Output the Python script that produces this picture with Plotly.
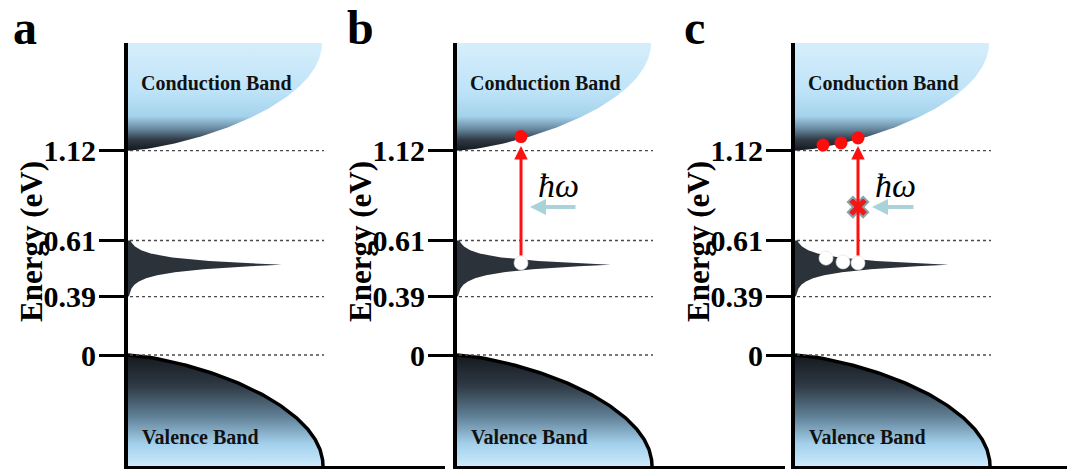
import numpy as np
import plotly.graph_objects as go

# ---------------- data ----------------
panel_letters = ["a", "b", "c"]
level_energies = [0.0, 0.39, 0.61, 1.12]          # eV
level_labels = ["0", "0.39", "0.61", "1.12"]
band_labels = ["Conduction Band", "Valence Band"]
defect_peak_energy = 0.515                         # eV, mid-gap state peak

# panel b: single excitation
b_electron_x = [64]
b_electron_E = [1.20]
b_hole_x = [64]
b_hole_E = [0.522]
# panel c: saturated absorption
c_electron_x = [28, 46, 63]
c_electron_E = [1.152, 1.164, 1.192]
c_hole_x = [31, 48, 63]
c_hole_E = [0.541, 0.526, 0.522]
photon_E = 0.80          # level of incoming photon arrow
photon_label_E = 0.925
arrow_tip_E = 1.146

# ---------------- layout helpers ----------------
W_FIG, H_FIG = 1071, 469
axis_left_px = [128, 457, 795]
axis_right_px = [445, 785, 1067]
top_px, bottom_px = 43, 466
zero_px = 355
# schematic (non-linear) display position of each level, px above the E=0 line
level_display = [0.0, 58.3, 114.5, 204.3]
slope_hi = (level_display[3] - level_display[2]) / (level_energies[3] - level_energies[2])
slope_lo = level_display[1] / level_energies[1]


def ey(E):
    E = np.asarray(E, dtype=float)
    d = np.interp(E, level_energies, level_display)
    d = np.where(E > level_energies[-1], level_display[-1] + (E - level_energies[-1]) * slope_hi, d)
    d = np.where(E < 0, E * slope_lo, d)
    return d


y_top = zero_px - top_px
y_bot = zero_px - bottom_px
SERIF = "Liberation Serif"


def edge(t):
    return (2 * t - t * t) ** 0.7


fig = go.Figure()
annotations = []

for i in range(3):
    xa = "x" if i == 0 else f"x{i+1}"
    ya = "y" if i == 0 else f"y{i+1}"
    # conduction band
    Ec = float(ey(1.12))
    t = np.linspace(0, 1, 120)
    cx = 194 * edge(t)
    cy = Ec + t * (y_top - Ec)
    px = np.concatenate([[0], cx, [0, 0]])
    py = np.concatenate([[Ec], cy, [y_top, Ec]])
    fig.add_trace(go.Scatter(x=px, y=py, xaxis=xa, yaxis=ya, mode="lines", fill="toself",
                             line=dict(width=0, color="rgba(0,0,0,0)"),
                             fillgradient=dict(type="vertical", start=Ec, stop=y_top,
                                               colorscale=[[0, "#15181d"], [0.1, "#2e3944"], [0.2, "#66889e"],
                                                           [0.32, "#a4d2ec"], [0.55, "#bee3f8"], [1, "#d6eefb"]]),
                             hoverinfo="skip", showlegend=False))
    # valence band
    vx = 195 * edge(t)
    vy = -t * (-y_bot)
    px = np.concatenate([[0], vx, [0, 0]])
    py = np.concatenate([[0], vy, [y_bot, 0]])
    fig.add_trace(go.Scatter(x=px, y=py, xaxis=xa, yaxis=ya, mode="lines", fill="toself",
                             line=dict(width=0, color="rgba(0,0,0,0)"),
                             fillgradient=dict(type="vertical", start=y_bot, stop=0,
                                               colorscale=[[0, "#cbe9fb"], [0.2, "#a3d0ec"], [0.45, "#5f7f95"],
                                                           [0.72, "#2f3a45"], [1, "#15191e"]]),
                             hoverinfo="skip", showlegend=False))
    fig.add_trace(go.Scatter(x=vx, y=vy, xaxis=xa, yaxis=ya, mode="lines",
                             line=dict(width=3.5, color="black"), hoverinfo="skip", showlegend=False))
    # dotted level lines
    for E in level_energies:
        yy = float(ey(E))
        fig.add_trace(go.Scatter(x=[2, 196], y=[yy, yy], xaxis=xa, yaxis=ya, mode="lines",
                                 line=dict(width=1.3, color="#4a4a4a", dash="dot"),
                                 hoverinfo="skip", showlegend=False))
    # defect (mid-gap) band
    ylo, yhi, yp = float(ey(0.39)), float(ey(0.61)), float(ey(defect_peak_energy))
    ys = np.linspace(ylo, yhi, 300)
    lam = np.where(ys < yp, 6.3, 5.9)
    xs = 154 * np.exp(-np.abs(ys - yp) / lam)
    px = np.concatenate([[0], xs, [0, 0]])
    py = np.concatenate([[ylo], ys, [yhi, ylo]])
    fig.add_trace(go.Scatter(x=px, y=py, xaxis=xa, yaxis=ya, mode="lines", fill="toself",
                             fillcolor="#2b3239", line=dict(width=0, color="rgba(0,0,0,0)"),
                             hoverinfo="skip", showlegend=False))

    # texts
    annotations.append(dict(x=88, y=float(ey(1.12)) + 67.5, xref=xa, yref=ya, text=band_labels[0],
                            xanchor="center", yanchor="middle", showarrow=False,
                            font=dict(family=SERIF, size=20, color="#111", weight="bold")))
    annotations.append(dict(x=72, y=-82, xref=xa, yref=ya, text=band_labels[1],
                            xanchor="center", yanchor="middle", showarrow=False,
                            font=dict(family=SERIF, size=20, color="#111", weight="bold")))
    # axis title & panel letter
    annotations.append(dict(x=(axis_left_px[i] - 97) / W_FIG, y=1 - 242 / H_FIG, xref="paper", yref="paper",
                            text="Energy (eV)", textangle=-90, showarrow=False,
                            xanchor="center", yanchor="middle",
                            font=dict(family=SERIF, size=31, color="black", weight="bold")))
    letter_x = [25, 360, 694][i]
    annotations.append(dict(x=letter_x / W_FIG, y=1 - 28 / H_FIG, xref="paper", yref="paper",
                            text=panel_letters[i], showarrow=False, xanchor="center", yanchor="middle",
                            font=dict(family=SERIF, size=48, color="black", weight="bold")))

    fig.layout[("xaxis" if i == 0 else f"xaxis{i+1}")] = dict(
        domain=[axis_left_px[i] / W_FIG, axis_right_px[i] / W_FIG],
        range=[0, axis_right_px[i] - axis_left_px[i]], anchor=ya,
        showline=True, linewidth=3, linecolor="black", showgrid=False, zeroline=False,
        showticklabels=False, ticks="", fixedrange=True)
    fig.layout[("yaxis" if i == 0 else f"yaxis{i+1}")] = dict(
        domain=[1 - bottom_px / H_FIG, 1 - top_px / H_FIG], range=[y_bot, y_top], anchor=xa,
        showline=True, linewidth=4, linecolor="black", showgrid=False, zeroline=False,
        tickvals=[float(v) for v in ey(level_energies)], ticktext=level_labels,
        ticks="outside", ticklen=25, tickwidth=3, tickcolor="black", ticklabelstandoff=-3,
        tickfont=dict(family=SERIF, size=30, color="black", weight="bold"), fixedrange=True)

# ---------- panels b and c ----------
for (xa, ya, ex, eE, hx, hE, ax_x, arr_tail, arr_head, lab_x) in [
        ("x2", "y2", b_electron_x, b_electron_E, b_hole_x, b_hole_E, 64, 120, 73, 101),
        ("x3", "y3", c_electron_x, c_electron_E, c_hole_x, c_hole_E, 63, 120, 77, 100)]:
    # red excitation arrow
    annotations.append(dict(x=ax_x, y=float(ey(arrow_tip_E)), ax=ax_x, ay=float(ey(hE[-1])) + 6,
                            xref=xa, yref=ya, axref=xa, ayref=ya, showarrow=True,
                            arrowhead=2, arrowsize=0.9, arrowwidth=3, arrowcolor="#ff1010", text=""))
    # photon arrow
    annotations.append(dict(x=arr_head, y=float(ey(photon_E)), ax=arr_tail, ay=float(ey(photon_E)),
                            xref=xa, yref=ya, axref=xa, ayref=ya, showarrow=True,
                            arrowhead=2, arrowsize=0.8, arrowwidth=4, arrowcolor="#a9d3d9", text=""))
    annotations.append(dict(x=lab_x, y=float(ey(photon_label_E)), xref=xa, yref=ya, showarrow=False,
                            xanchor="center", yanchor="middle",
                            text="<i>ħω</i>", font=dict(family=SERIF, size=34, color="black")))
    fig.add_trace(go.Scatter(x=ex, y=ey(eE), xaxis=xa, yaxis=ya, mode="markers",
                             marker=dict(size=13, color="#ff0d0d", line=dict(width=0)),
                             hoverinfo="skip", showlegend=False))
    fig.add_trace(go.Scatter(x=hx, y=ey(hE), xaxis=xa, yaxis=ya, mode="markers",
                             marker=dict(size=14, color="white", line=dict(width=0.6, color="#dddddd")),
                             hoverinfo="skip", showlegend=False))

# blocked transition marker in panel c
fig.add_trace(go.Scatter(x=[63], y=ey([photon_E]), xaxis="x3", yaxis="y3", mode="markers",
                         marker=dict(symbol="x", size=18, color="#f01818", line=dict(width=2, color="#8aa3ab")),
                         hoverinfo="skip", showlegend=False))

fig.update_layout(width=W_FIG, height=H_FIG, margin=dict(l=0, r=0, t=0, b=0),
                  paper_bgcolor="white", plot_bgcolor="rgba(0,0,0,0)",
                  annotations=annotations, showlegend=False)
fig.write_html("out.html")
